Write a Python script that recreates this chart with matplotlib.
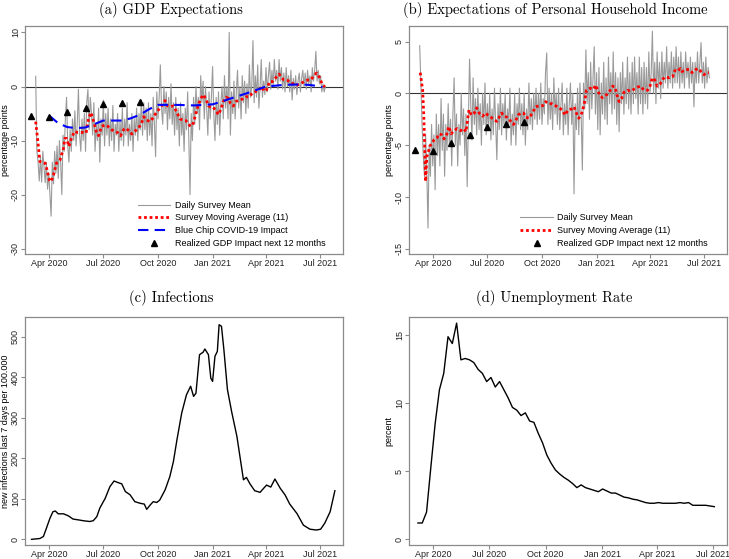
import numpy as np
import pandas as pd
import matplotlib
matplotlib.use("Agg")
import matplotlib.pyplot as plt
import matplotlib.dates as mdates

plt.rcParams["font.family"] = ["Liberation Sans", "DejaVu Sans"]
plt.rcParams["axes.unicode_minus"] = False

APR1 = pd.Timestamp("2020-04-01")


def to_dates(days):
    return APR1 + pd.to_timedelta(days, unit="D")


### DATA ###
# (a) GDP expectations: daily survey mean, every 2nd day from 9 Mar 2020
gdp_daily = [
    1.9, -12, -14, -17.5, -13, -17.7, -12, -15, -17.8, -14, -19, -16, -20, -24, -14,
    -18, -12, -16, -11, -17, -10, -14, -20, -9, -12, -6, -2, -11, -14, -8,
    -12, -6, -10, -4.5, -11, -7, -0.5, -9, -12, -6, -10, -5, -12, -3, -0.5,
    -8, -2, -5, -9, -3, -12, -7, -10, -4, -14, -6, -9, -2.5, -11, -5,
    -9, -4, -11, -6, -10, -3.5, -12, -7, -9, -5, -12, -6.5, -10, -4, -11,
    -6, -9, -3, -11, -7, -10, -5, -12, -6, -9, -4, -10, -5, -8, -2.5,
    -9, -3, -8, -4, -10, -3, -9, -5, -11, -2, -7, -13, -1, -6, -2,
    4, -4, -7, 0, -5, -1, -8, -2, -6, 0.5, -7, -3, -9, -2, -8,
    -4, -11, -3, -9, -5, -12, -4, -8, -1, -10, -20, -5, -10, -2, -7,
    0, -5, -2, -8, 2, -3, 1, -6, 0, -4, -9, -1, -6, -2, 3.7,
    -5, -10, -2, -7, -1, -9, -3, 0, -6, 2, -4, 0, -6, 10, -9,
    -1, -5, 1, -6, -1, 3, -4, 0, -6, 2, -3, 1, -5, 0.5, -4,
    4, -2, 0, 8.5, -3, 2, -2, 4, -4, 0, 5, -2, 1, -1.5, 3.5,
    -1, 2, 4.5, -0.5, 3, 0, 5, 1, 3, -0.5, 5, 1, 3.5, -0.5, 2.5,
    -1, 3.5, 0, 2, -1, 3, -2.5, 1.5, -0.5, 2, -1.5, 1, 2.5, -1, 1.5,
    3, 0, 2.5, -0.5, 3, 0.5, 2, -1, 3.5, 1, 3, 6.5, 1, 3, 0.5,
    2, -1, 0.5, -1, 0,
]

# moving average (11): days since 1 Apr 2020, value
gdp_ma_day = [-23, -19, -16, -11, -7, -4, 0, 3, 7, 12, 18, 24, 26, 29, 33, 38, 43, 47,
              52, 57, 62, 66, 70, 74, 79, 83, 88, 94, 99, 105, 111, 116, 120, 125, 129,
              135, 139, 144, 150, 155, 159, 164, 169, 174, 178, 184, 189, 195, 199, 204,
              209, 214, 220, 225, 230, 234, 238, 243, 247, 251, 255, 259, 264, 268, 272,
              276, 281, 285, 289, 293, 298, 302, 305, 310, 314, 320, 326, 331, 337, 342,
              348, 354, 358, 362, 366, 371, 376, 382, 387, 391, 395, 401, 407, 412, 418,
              423, 429, 435, 440, 446, 450, 455, 459, 464]
gdp_ma = [-6.5, -10.5, -13.9, -14.0, -14.2, -15.4, -17.3, -17.6, -16.4, -14.2, -13.6, -11.4,
          -9.6, -9.6, -11.1, -9.3, -8.3, -8.5, -8.5, -8.5, -8.6, -6.0, -4.8, -6.2, -8.3,
          -9.1, -7.4, -7.1, -7.4, -8.0, -8.3, -8.6, -9.1, -8.0, -7.7, -8.3, -8.8, -8.3,
          -7.7, -6.9, -5.6, -6.2, -6.5, -5.9, -5.2, -4.3, -3.6, -2.6, -3.6, -3.7, -3.6,
          -4.6, -6.0, -6.2, -6.3, -6.9, -7.4, -6.7, -4.9, -3.4, -2.3, -1.5, -2.3, -3.6,
          -3.8, -3.8, -4.6, -5.2, -4.2, -2.8, -2.0, -2.2, -3.1, -3.6, -2.8, -2.5, -2.3,
          -1.9, -1.9, -1.2, -0.9, -0.6, 0.0, -0.9, -0.6, 0.9, 0.9, 1.7, 2.3, 1.7, 1.2,
          1.1, 0.9, 0.3, 0.3, 0.5, 0.9, 1.2, 1.2, 2.0, 2.5, 1.7, 0.6, -0.1]

bluechip_day = [0, 15, 30, 45, 60, 75, 91, 122, 137, 153, 168, 183, 214, 244, 275, 290,
                306, 334, 365, 395, 426, 445, 460]
bluechip = [-5.4, -6.8, -7.5, -7.7, -7.6, -7.0, -6.3, -6.3, -5.9, -5.2, -4.2, -3.4, -3.4,
            -3.5, -3.3, -2.8, -2.2, -1.2, 0.0, 0.3, 0.4, 0.2, -0.1]

realized_dates = ["2020-03-01", "2020-04-01", "2020-05-01", "2020-06-01",
                  "2020-07-01", "2020-08-01", "2020-09-01"]
realized = [-5.5, -5.6, -4.8, -4.0, -3.2, -3.0, -2.8]

# (b) personal household income expectations, every 2nd day from 9 Mar 2020
inc_daily = [
    4.6, 1, -3, -6, -8, -4, -7.5, -13, -5, -8, -3, -7, -4, -9.3, -2,
    -6, -3, -7, -0.5, -5.5, -2, -8, -3, -5.5, -1, -5, -2.5, -7, -2, 1.5,
    -5, -2, -7, -3, -5, 0, -4, -1.5, -6, -2, -9, -3, 3.3, -1, -4.5,
    1.5, -3, -0.5, -4, 0.5, -3.5, -1, -5, 0, -3, 1, -4, -1, -3.5, 0,
    -4.5, -1.5, -4, 0.5, -3, -6.4, -1, -3.5, 0.5, -4, -1, -3, 0, -4.5, -1.5,
    -3, 0.5, -5, -2, -4, 0, -5, -1, -3, 0.5, -3.5, -1, -4, 0, -5,
    -1.5, -3.5, 1, -3, -0.5, -3.5, 0, -2.5, 0.5, -3, 0, -2.5, 1, -3, -0.5,
    -2, 2, 3.9, -3, 0.5, -2.5, 0, -3.5, 1.5, -2, 0, -3, 0.5, -3.5, -1,
    1, -4, -1, -3, 0.5, -4, -1, 1, -3, 0, -9.7, -1, -3.5, 0.5, -4,
    1, -2, -7.4, 1, -1.5, 4.2, -1, 2, -2.5, 3, -1.5, 1.5, 4.5, -2, 2,
    -3.5, 2.5, -4, 1, -2, 3, -2.5, 1.5, -3, 3.5, -1, 2, -2, 4, -1.5,
    2, -3, 1.5, -3.7, 2, -1, 3, -2, 1.5, -1, 3.5, -1.5, 2, -2, 3,
    -1, 3.5, -0.5, 2, -2, 3.5, -1, 2.5, -2, 3, -1, 2.5, -1.5, 4, 0,
    2, 6, 0, 3, -1, 4, 0.5, 3, -0.5, 4, 0.5, 3, 1, 4.5, 0.5,
    3, 1, 4, 0.5, 3.5, 1, 4.5, 1, 3.5, 0.5, 4, 1, 3, 0.5, 4,
    1.5, 3, 0.5, 3.5, 1, 3, -1.3, 3, 1, 4, 1, 3, 4.9, 1, 3,
    0.5, 3.5, 1, 2.5, 1.5,
]

inc_ma_day = [-22, -18, -16, -13, -11, -9, -6, -2, 1, 6, 10, 14, 18, 23, 26, 30, 35, 40,
              46, 51, 55, 60, 64, 69, 73, 77, 83, 88, 92, 97, 101, 107, 111, 115, 119, 124,
              129, 135, 139, 143, 147, 152, 156, 161, 167, 172, 178, 184, 189, 195, 200,
              206, 212, 217, 222, 227, 233, 237, 241, 245, 249, 254, 258, 264, 270, 273,
              277, 281, 285, 289, 293, 298, 302, 306, 309, 313, 317, 321, 327, 332, 338,
              344, 349, 355, 361, 365, 369, 373, 377, 382, 387, 391, 397, 403, 407, 411,
              416, 419, 425, 431, 436, 442, 446, 451, 456, 460, 464]
inc_ma = [2.0, 0.3, -2.2, -8.5, -6.1, -5.8, -5.1, -4.8, -4.5, -4.3, -3.9, -4.0, -4.4, -3.9,
          -3.2, -3.9, -3.6, -3.4, -3.6, -3.4, -3.7, -1.6, -2.1, -1.9, -1.4, -1.9, -2.2,
          -1.9, -2.1, -2.3, -2.5, -2.7, -2.3, -1.9, -2.2, -2.3, -2.6, -3.0, -2.6, -2.1,
          -1.9, -1.9, -2.3, -2.4, -1.9, -1.3, -1.2, -1.2, -0.8, -1.0, -1.0, -1.2, -1.4,
          -1.6, -2.1, -1.6, -1.5, -1.3, -1.9, -2.4, -2.1, -1.1, 0.3, 0.5, 0.4, 0.8, 0.3,
          -0.3, -0.4, -0.2, -0.1, 0.3, 0.7, 0.6, -0.1, -0.8, -0.5, 0.1, 0.3, 0.2, 0.4,
          0.6, 0.7, 0.3, 0.3, 0.7, 1.5, 1.3, 0.7, 0.9, 1.4, 1.6, 1.5, 1.6, 2.2, 2.1, 2.4,
          2.1, 2.3, 2.3, 2.0, 2.3, 2.4, 2.1, 1.8, 2.0, 2.0]

# (c) infections, days since 1 Apr 2020
inf_day = [-30, -16, -10, -5, 1, 6, 10, 15, 24, 32, 40, 49, 57, 68, 74, 80, 85, 94, 102,
           109, 116, 122, 128, 136, 144, 153, 160, 164, 170, 175, 181, 186, 195, 203,
           209, 215, 223, 231, 238, 243, 247, 253, 259, 262, 268, 272, 275, 279, 283,
           286, 290, 294, 300, 307, 316, 327, 332, 338, 346, 355, 361, 366, 373, 380,
           389, 397, 405, 417, 428, 439, 450, 457, 464, 473, 481]
infections = [0, 2, 7, 27, 52, 68, 70, 63, 63, 58, 50, 48, 46, 44, 46, 56, 77, 101, 130,
              144, 140, 137, 118, 110, 93, 89, 87, 74, 85, 93, 91, 97, 122, 155, 192, 246,
              312, 357, 378, 353, 361, 456, 462, 470, 456, 398, 390, 452, 464, 530, 526,
              469, 370, 316, 254, 147, 153, 137, 120, 116, 126, 134, 129, 149, 126, 110,
              87, 64, 35, 25, 23, 25, 40, 68, 120]

# (d) unemployment rate, weekly from 7 Mar 2020
unemployment = [1.2, 1.2, 2.0, 5.3, 8.5, 11.0, 12.2, 14.9, 14.4, 15.9, 13.2, 13.3, 13.2,
                13.0, 12.5, 12.2, 11.6, 11.9, 11.2, 11.6, 11.0, 10.4, 9.7, 9.5, 9.1, 9.3,
                8.7, 8.6, 7.8, 7.1, 6.2, 5.6, 5.1, 4.8, 4.55, 4.35, 4.1, 3.8, 4.0, 3.8,
                3.7, 3.6, 3.5, 3.7, 3.55, 3.4, 3.4, 3.25, 3.1, 3.05, 2.95, 2.9, 2.8, 2.7,
                2.65, 2.65, 2.7, 2.65, 2.65, 2.65, 2.65, 2.7, 2.65, 2.7, 2.5, 2.5, 2.5,
                2.5, 2.45, 2.4]

### PLOTTING ###
fig = plt.figure(figsize=(7.29, 5.59), dpi=100)
W, H = 729, 559


def add_ax(l, t, r, b):
    return fig.add_axes([l / W, 1 - b / H, (r - l) / W, (b - t) / H])


TICK = 6.5
FRAME = "#8a8a8a"


def style(ax, xlim_days, ylim, yticks, ylabel):
    ax.set_xlim(to_dates(xlim_days[0]), to_dates(xlim_days[1]))
    ax.set_ylim(*ylim)
    ax.set_yticks(yticks)
    ax.set_yticklabels([str(v) for v in yticks], rotation=90, va="center")
    ax.xaxis.set_major_locator(mdates.MonthLocator(bymonth=[1, 4, 7, 10]))
    ax.xaxis.set_major_formatter(mdates.DateFormatter("%b %Y"))
    ax.tick_params(labelsize=TICK, color=FRAME, length=2.6, width=0.8,
                   labelcolor="#222222", pad=1)
    for s in ax.spines.values():
        s.set_color(FRAME)
        s.set_linewidth(0.9)
    ax.set_ylabel(ylabel, fontsize=TICK, labelpad=1)


GRAY = "#9a9a9a"
title_kw = dict(fontsize=10.5, family="cmr10", ha="center", va="top")
leg_kw = dict(loc="lower left", frameon=False, fontsize=TICK, handlelength=3.6,
              labelspacing=0.4, handletextpad=0.5, borderaxespad=0.3)

# (a)
ax = add_ax(25, 26, 343, 254)
d_a = pd.date_range("2020-03-09", periods=len(gdp_daily), freq="2D")
ax.axhline(0, color="#333333", lw=0.8)
ax.plot(d_a, gdp_daily, color=GRAY, lw=0.8, label="Daily Survey Mean")
ax.plot(to_dates(gdp_ma_day), gdp_ma, color="red", lw=2, ls=(0, (1, 1)),
        label="Survey Moving Average (11)")
ax.plot(to_dates(bluechip_day), bluechip, color="blue", lw=1.5, ls=(0, (5, 3)),
        label="Blue Chip COVID-19 Impact")
ax.plot(pd.to_datetime(realized_dates), realized, "^", color="black", ms=5,
        label="Realized GDP Impact next 12 months")
style(ax, (-41, 494.7), (-31, 11.2), [10, 0, -10, -20, -30], "percentage points")
ax.legend(bbox_to_anchor=(0.335, 0.0), **leg_kw)
fig.text(171 / W, 1 - 1.5 / H, "(a) GDP Expectations", **title_kw)

# (b)
ax = add_ax(409, 26, 727, 254)
d_b = pd.date_range("2020-03-09", periods=len(inc_daily), freq="2D")
ax.axhline(0, color="#333333", lw=0.8)
ax.plot(d_b, inc_daily, color=GRAY, lw=0.8, label="Daily Survey Mean")
ax.plot(to_dates(inc_ma_day), inc_ma, color="red", lw=2, ls=(0, (1, 1)),
        label="Survey Moving Average (11)")
ax.plot(pd.to_datetime(realized_dates), realized, "^", color="black", ms=5,
        label="Realized GDP Impact next 12 months")
style(ax, (-41, 494.7), (-15.5, 6.5), [5, 0, -5, -10, -15], "percentage points")
ax.legend(bbox_to_anchor=(0.33, 0.0), **leg_kw)
fig.text(555 / W, 1 - 1.5 / H, "(b) Expectations of Personal Household Income", **title_kw)

# (c)
ax = add_ax(25, 317, 343, 545)
ax.plot(to_dates(inf_day), infections, color="black", lw=1)
style(ax, (-41, 494.7), (-14, 549), [0, 100, 200, 300, 400, 500],
      "new infections last 7 days per 100.000")
fig.text(171 / W, 1 - 290 / H, "(c) Infections", **title_kw)

# (d)
ax = add_ax(409, 317, 727, 545)
d_d = pd.date_range("2020-03-07", periods=len(unemployment), freq="7D")
ax.plot(d_d, unemployment, color="black", lw=1)
style(ax, (-39.6, 478.7), (-0.42, 16.35), [0, 5, 10, 15], "percent")
fig.text(554 / W, 1 - 290 / H, "(d) Unemployment Rate", **title_kw)

fig.savefig("out.png", dpi=100)
